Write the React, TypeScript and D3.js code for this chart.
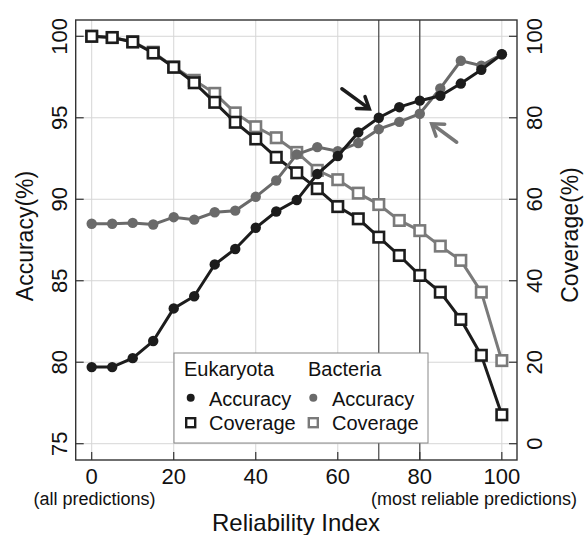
import React from "react";
import * as d3 from "d3";

const reliability = [0, 5, 10, 15, 20, 25, 30, 35, 40, 45, 50, 55, 60, 65, 70, 75, 80, 85, 90, 95, 100];
const eukAccuracy = [79.7, 79.7, 80.25, 81.3, 83.3, 84.05, 86.0, 86.95, 88.25, 89.25, 89.95, 91.55, 92.65, 94.1, 95.0, 95.65, 96.05, 96.35, 97.1, 97.95, 98.9];
const bacAccuracy = [88.5, 88.5, 88.55, 88.45, 88.9, 88.75, 89.2, 89.3, 90.15, 91.15, 92.75, 93.2, 92.95, 93.45, 94.3, 94.75, 95.25, 96.8, 98.5, 98.2, 98.9];
const eukCoverage = [100, 99.7, 98.6, 95.9, 92.4, 88.6, 83.8, 78.9, 74.8, 70.3, 66.5, 62.6, 58.2, 55.2, 50.7, 46.2, 41.3, 37.2, 30.5, 21.7, 7.1];
const bacCoverage = [100, 99.7, 98.7, 96.1, 92.5, 89.2, 86.0, 81.2, 77.8, 75.1, 71.5, 67.1, 64.8, 61.5, 58.7, 54.8, 52.3, 48.5, 45.0, 37.2, 20.4];
const xTicks = [0, 20, 40, 60, 80, 100];
const accTicks = [75, 80, 85, 90, 95, 100];
const covTicks = [0, 20, 40, 60, 80, 100];
const markedX = [70, 80];
// arrows: [x1, acc1, x2, acc2]
const blackArrow = [61, 96.78, 67.7, 95.55];
const grayArrow = [89, 93.5, 82.9, 94.63];

const W = 585, H = 535;
const L = 75.7, R = 517, T = 20, B = 460;
const FONT = "Liberation Sans, Arial, sans-serif";
const DARK = "#1c1c1c";
const GRAY = "#6a6a6a";
const GRAYSQ = "#7a7a7a";

export default function App() {
  const x = d3.scaleLinear().domain([-3.9, 103.7]).range([L, R]);
  const yA = d3.scaleLinear().domain([74, 101]).range([B, T]);
  const yC = d3.scaleLinear().domain([-4, 104]).range([B, T]);

  const lineA = d3.line<number>().x((_, i) => x(reliability[i])).y((d) => yA(d));
  const lineC = d3.line<number>().x((_, i) => x(reliability[i])).y((d) => yC(d));

  const sq = 10.5;

  const arrow = (a: number[], color: string, key: string) => {
    const x1 = x(a[0]), y1 = yA(a[1]), x2 = x(a[2]), y2 = yA(a[3]);
    const ang = Math.atan2(y2 - y1, x2 - x1);
    const len = 13;
    const spread = 0.6;
    const bx1 = x2 - len * Math.cos(ang - spread), by1 = y2 - len * Math.sin(ang - spread);
    const bx2 = x2 - len * Math.cos(ang + spread), by2 = y2 - len * Math.sin(ang + spread);
    return (
      <g key={key} stroke={color} strokeWidth={3.5} fill="none" strokeLinecap="round" strokeLinejoin="miter">
        <line x1={x1} y1={y1} x2={x2 - 2 * Math.cos(ang)} y2={y2 - 2 * Math.sin(ang)} />
        <polyline points={`${bx1},${by1} ${x2},${y2} ${bx2},${by2}`} />
      </g>
    );
  };

  const squares = (vals: number[], color: string, key: string) =>
    vals.map((v, i) => (
      <rect key={key + i} x={x(reliability[i]) - sq / 2} y={yC(v) - sq / 2} width={sq} height={sq}
        fill="#fff" stroke={color} strokeWidth={2.6} />
    ));
  const dots = (vals: number[], color: string, key: string) =>
    vals.map((v, i) => <circle key={key + i} cx={x(reliability[i])} cy={yA(v)} r={5.2} fill={color} />);

  return (
    <svg width={W} height={H} style={{ position: "absolute", left: 0, top: 0, background: "#fff" }} fontFamily={FONT}>
      <rect x={0} y={0} width={W} height={H} fill="#fff" />
      {/* grid */}
      <g stroke="#d6d6d6" strokeWidth={1}>
        {xTicks.map((t) => <line key={"gx" + t} x1={x(t)} x2={x(t)} y1={T} y2={B} />)}
        {accTicks.map((t) => <line key={"gy" + t} x1={L} x2={R} y1={yA(t)} y2={yA(t)} />)}
      </g>
      {/* reference lines */}
      <g stroke="#333" strokeWidth={1.1}>
        {markedX.map((t) => <line key={"m" + t} x1={x(t)} x2={x(t)} y1={T} y2={B} />)}
      </g>
      {/* series */}
      <path d={lineC(bacCoverage) || ""} fill="none" stroke={GRAYSQ} strokeWidth={3} />
      {squares(bacCoverage, GRAYSQ, "bc")}
      <path d={lineC(eukCoverage) || ""} fill="none" stroke={DARK} strokeWidth={3} />
      {squares(eukCoverage, DARK, "ec")}
      <path d={lineA(bacAccuracy) || ""} fill="none" stroke={GRAY} strokeWidth={3} />
      {dots(bacAccuracy, GRAY, "ba")}
      <path d={lineA(eukAccuracy) || ""} fill="none" stroke={DARK} strokeWidth={3} />
      {dots(eukAccuracy, DARK, "ea")}
      {/* arrows */}
      {arrow(blackArrow, DARK, "ab")}
      {arrow(grayArrow, "#777", "ag")}
      {/* frame */}
      <rect x={L} y={T} width={R - L} height={B - T} fill="none" stroke="#333" strokeWidth={1.4} />
      {/* ticks */}
      <g stroke="#333" strokeWidth={1.2}>
        {xTicks.map((t) => <line key={"tx" + t} x1={x(t)} x2={x(t)} y1={B} y2={B - 8} />)}
        {accTicks.map((t) => <line key={"ta" + t} x1={L} x2={L + 8} y1={yA(t)} y2={yA(t)} />)}
        {covTicks.map((t) => <line key={"tc" + t} x1={R} x2={R - 8} y1={yC(t)} y2={yC(t)} />)}
      </g>
      {/* tick labels */}
      <g fontSize={22} fill="#111" textAnchor="middle">
        {xTicks.map((t) => <text key={"lx" + t} x={x(t)} y={484}>{t}</text>)}
        {accTicks.map((t) => (
          <text key={"la" + t} transform={`translate(59,${yA(t)}) rotate(-90)`} dominantBaseline="central">{t}</text>
        ))}
        {covTicks.map((t) => (
          <text key={"lc" + t} transform={`translate(534,${yC(t)}) rotate(-90)`} dominantBaseline="central">{t}</text>
        ))}
      </g>
      {/* axis titles */}
      <text transform={`translate(25,236) rotate(-90)`} textAnchor="middle" dominantBaseline="central" fontSize={23} fill="#111">Accuracy(%)</text>
      <text transform={`translate(570,235) rotate(-90)`} textAnchor="middle" dominantBaseline="central" fontSize={23} fill="#111">Coverage(%)</text>
      <text x={296} y={531} textAnchor="middle" fontSize={24} fill="#111">Reliability Index</text>
      <text x={94.5} y={505} textAnchor="middle" fontSize={18} fill="#111">(all predictions)</text>
      <text x={577} y={505} textAnchor="end" fontSize={18} fill="#111">(most reliable predictions)</text>
      {/* legend */}
      <g>
        <rect x={174} y={353} width={254} height={90} fill="#fff" stroke="#888" strokeWidth={1} />
        <g fontSize={20} fill="#111">
          <text x={184} y={376}>Eukaryota</text>
          <text x={308} y={376}>Bacteria</text>
          <text x={209} y={405.5}>Accuracy</text>
          <text x={209} y={429.5}>Coverage</text>
          <text x={332} y={405.5}>Accuracy</text>
          <text x={332} y={429.5}>Coverage</text>
        </g>
        <circle cx={190.7} cy={397.7} r={4} fill={DARK} />
        <circle cx={313.3} cy={397.7} r={4} fill={GRAY} />
        <rect x={186.2} y={418.2} width={9} height={9} fill="#fff" stroke={DARK} strokeWidth={2.4} />
        <rect x={308.8} y={418.2} width={9} height={9} fill="#fff" stroke={GRAYSQ} strokeWidth={2.4} />
      </g>
    </svg>
  );
}
